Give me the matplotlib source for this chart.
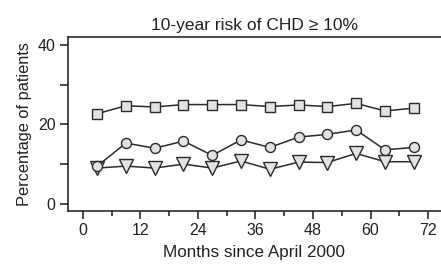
import numpy as np
import matplotlib
matplotlib.use("Agg")
import matplotlib.pyplot as plt
from matplotlib.ticker import MultipleLocator

plt.rcParams["font.family"] = ["Liberation Sans", "DejaVu Sans"]
plt.rcParams["text.color"] = "#222222"
plt.rcParams["axes.labelcolor"] = "#222222"
plt.rcParams["xtick.labelcolor"] = "#222222"
plt.rcParams["ytick.labelcolor"] = "#222222"

# data
months = [3, 9, 15, 21, 27, 33, 39, 45, 51, 57, 63, 69]
squares = [22.7, 24.7, 24.4, 25.0, 25.0, 25.0, 24.5, 24.9, 24.5, 25.3, 23.4, 24.1]
circles = [9.5, 15.3, 14.0, 15.8, 12.2, 16.1, 14.2, 16.8, 17.5, 18.6, 13.6, 14.2]
triangles = [9.0, 9.5, 9.0, 10.0, 9.0, 10.8, 8.7, 10.5, 10.4, 12.7, 10.6, 10.6]

title = "10-year risk of CHD \u2265 10%"
xlabel = "Months since April 2000"
ylabel = "Percentage of patients"

fig = plt.figure(figsize=(4.41, 2.65), dpi=100)
ax = fig.add_axes([0.154, 0.204, 0.846, 0.656])

line_kw = dict(color="#2a2a2a", linewidth=1.1, markerfacecolor="#e2e2e2",
               markeredgecolor="#2a2a2a", markeredgewidth=1.0)
ax.plot(months, triangles, marker="v", markersize=9.5, **line_kw)
ax.plot(months, circles, marker="o", markersize=7.2, **line_kw)
ax.plot(months, squares, marker="s", markersize=7.0, **line_kw)

ax.set_xlim(-3.1, 74.7)
ax.set_ylim(-1.8, 42)
ax.xaxis.set_major_locator(MultipleLocator(12))
ax.xaxis.set_minor_locator(MultipleLocator(6))
ax.yaxis.set_major_locator(MultipleLocator(20))
ax.yaxis.set_minor_locator(MultipleLocator(10))

ax.spines["right"].set_visible(False)
for s in ["left", "bottom", "top"]:
    ax.spines[s].set_linewidth(1.1)
    ax.spines[s].set_color("#1a1a1a")

ax.tick_params(axis="both", which="major", length=6, width=1.1, labelsize=11.5,
               color="#1a1a1a", pad=3)
ax.tick_params(axis="x", which="minor", length=3.8, width=1.1, color="#1a1a1a")
ax.tick_params(axis="y", which="minor", length=6, width=1.1, color="#1a1a1a")

ax.set_title(title, fontsize=12.5, pad=5)
ax.set_xlabel(xlabel, fontsize=12.3, labelpad=5)
ax.set_ylabel(ylabel, fontsize=11.8, labelpad=4)

fig.savefig("out.png", dpi=100)
